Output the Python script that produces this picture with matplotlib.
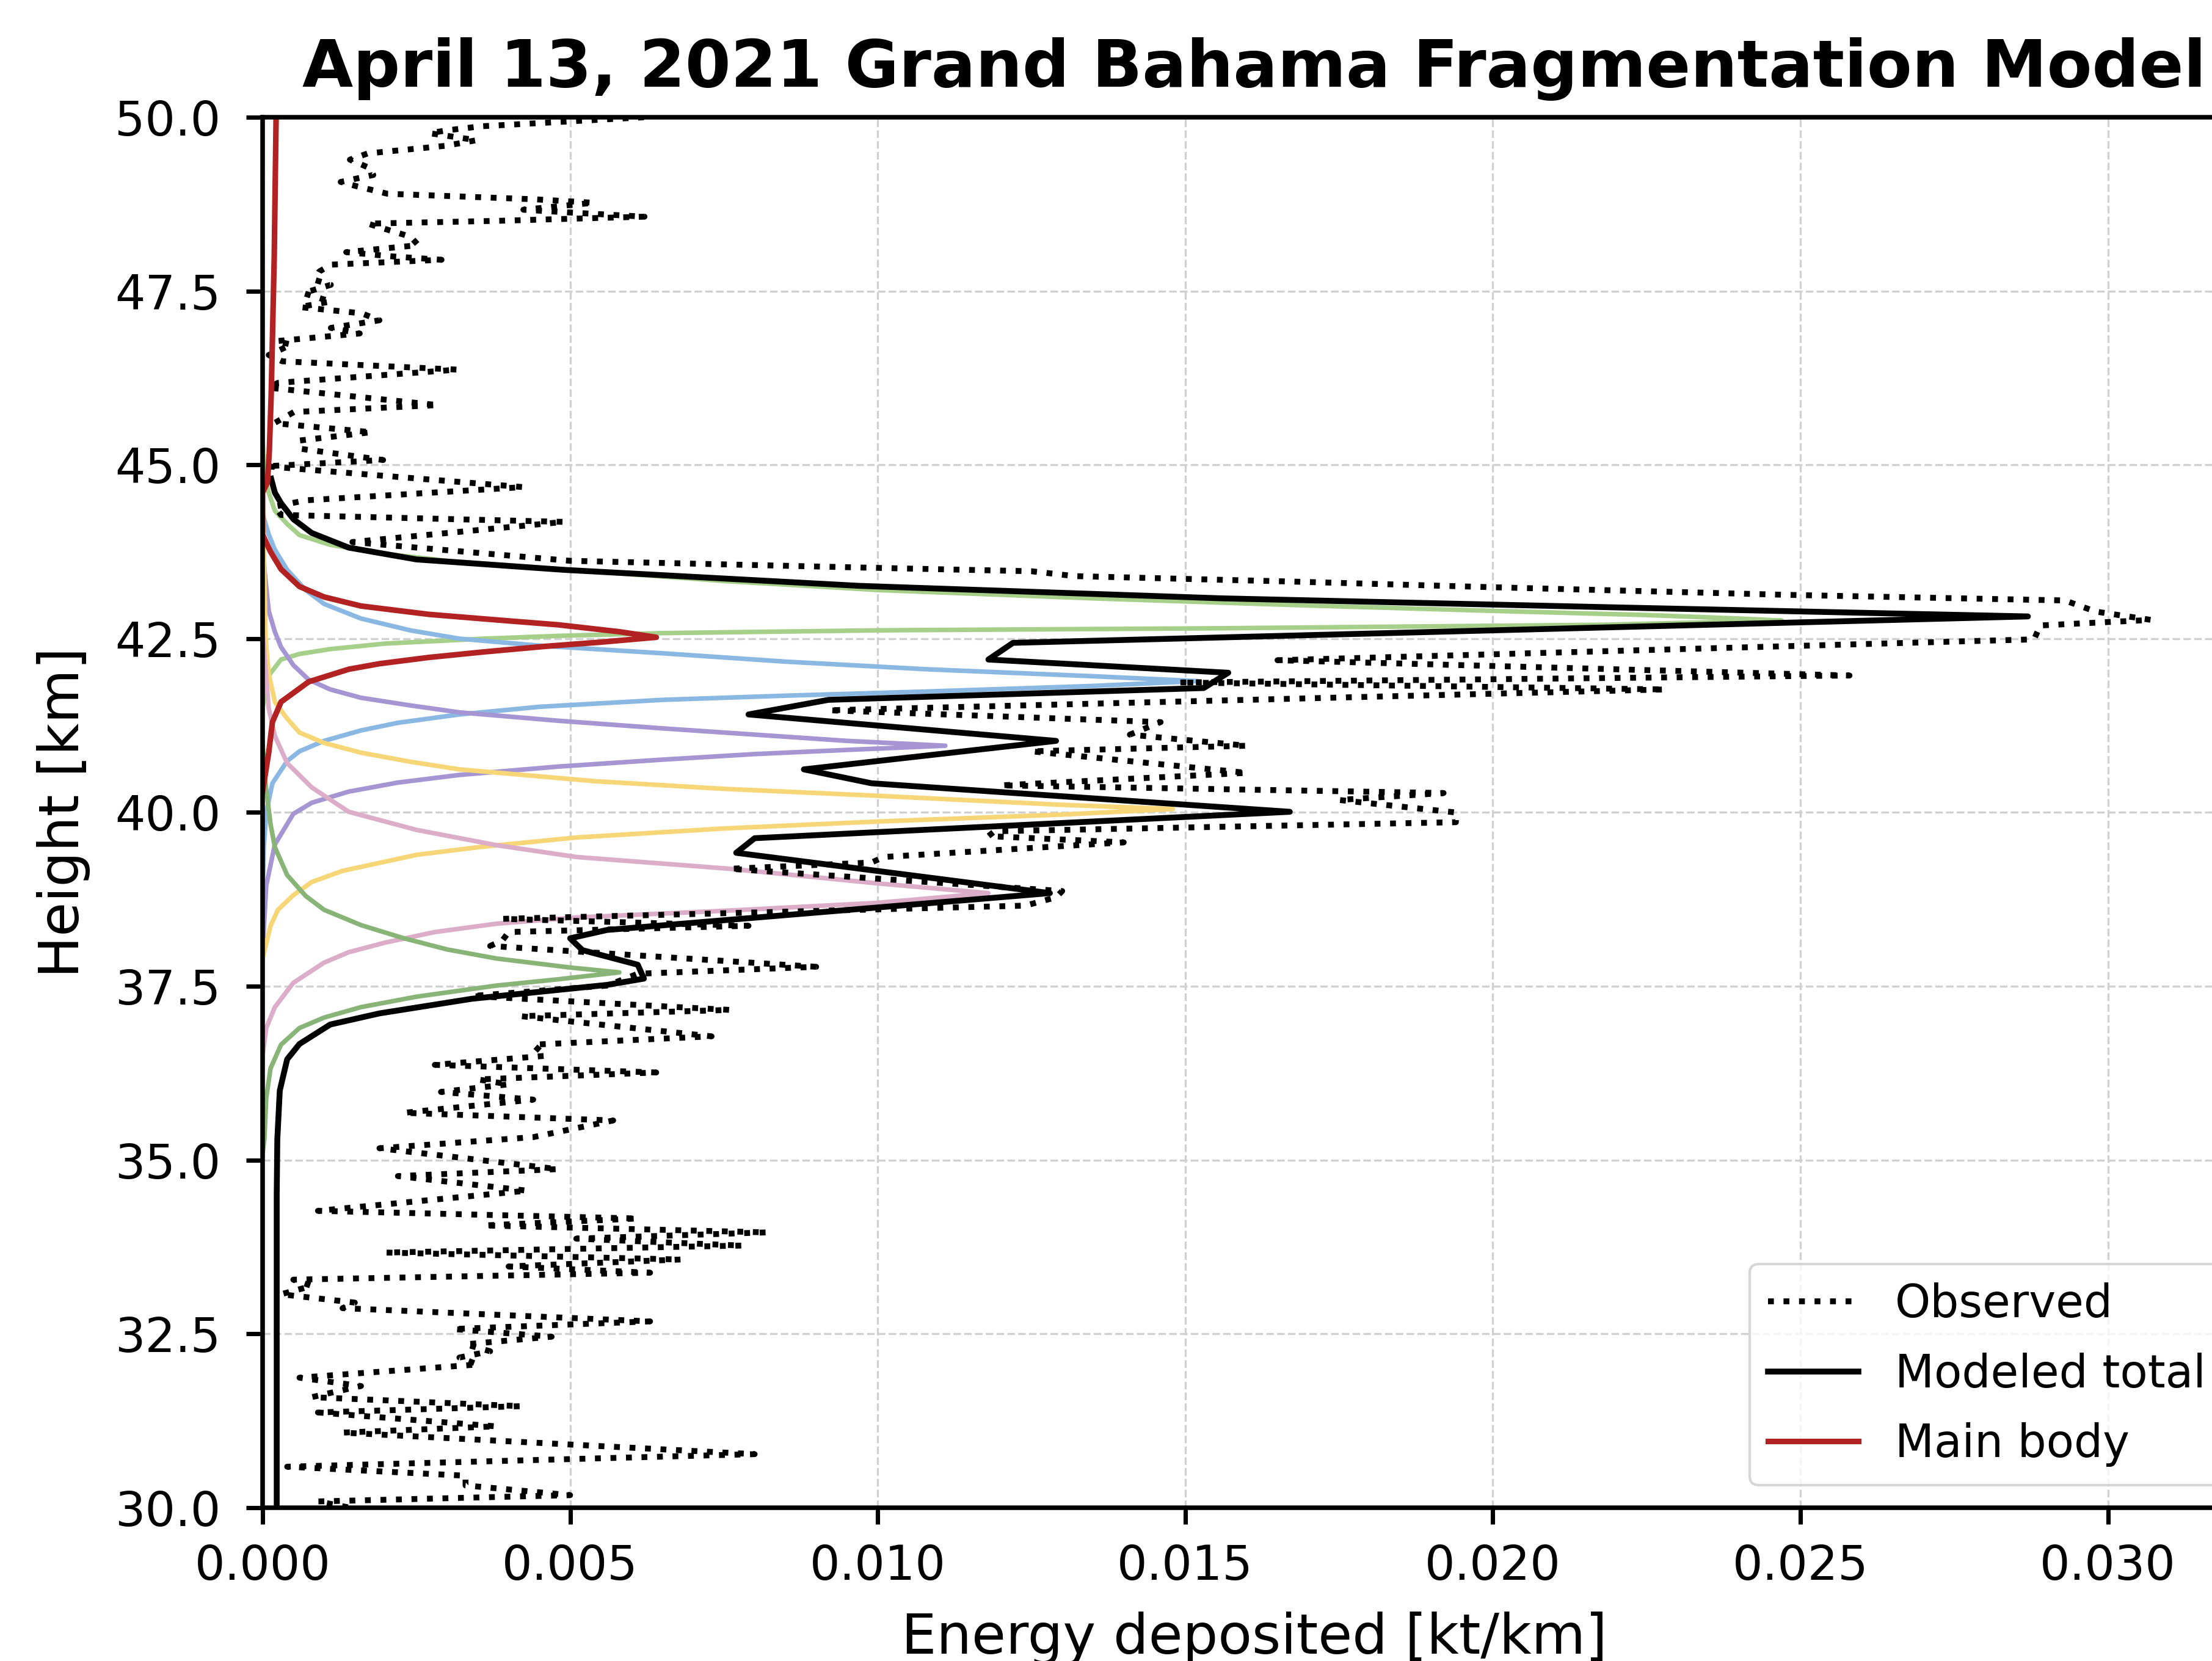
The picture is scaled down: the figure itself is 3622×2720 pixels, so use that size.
import matplotlib
matplotlib.use("Agg")
import matplotlib.pyplot as plt

# observed energy deposition (kt/km) vs height (km)
obs_energy = [0.0062, 0.00355, 0.00298, 0.00272, 0.00348, 0.00298, 0.00171, 0.00142, 0.00174, 0.00180,
              0.00127, 0.00152, 0.00203, 0.00443, 0.00538, 0.00424, 0.00500, 0.00621, 0.00380, 0.00171,
              0.00215, 0.00241, 0.00253, 0.00136, 0.00209, 0.00291, 0.00111, 0.00092, 0.00085, 0.00111,
              0.00066, 0.00111, 0.00060, 0.00161, 0.00190, 0.00111, 0.00158, 0.00022, 0.00047, 0.00010,
              0.00032, 0.00317, 0.00025, 0.00010, 0.00285, 0.00051, 0.00019, 0.00177, 0.00060, 0.00063,
              0.00196, 0.00006, 0.00424, 0.00070, 0.00020, 0.00030, 0.00490, 0.00146, 0.0050, 0.0099,
              0.0125, 0.0132, 0.0168, 0.0200, 0.0248, 0.0293, 0.0298, 0.0307, 0.0289, 0.0288,
              0.0165, 0.0258, 0.0149, 0.0228, 0.0092, 0.0146, 0.0141, 0.0160, 0.0125, 0.0160,
              0.0120, 0.0192, 0.0175, 0.0194, 0.0194, 0.0119, 0.0118, 0.0140, 0.0101, 0.0099,
              0.0076, 0.0130, 0.0129, 0.0124, 0.0039, 0.0079, 0.0040, 0.0039, 0.0037, 0.0090,
              0.0061, 0.0056, 0.0034, 0.0076, 0.0042, 0.0073, 0.0044, 0.0046, 0.0028, 0.0064,
              0.0035, 0.0040, 0.0029, 0.0044, 0.0023, 0.0057, 0.0044, 0.0019, 0.0048, 0.0022,
              0.0043, 0.0009, 0.0061, 0.0036, 0.0082, 0.0051, 0.0078, 0.0020, 0.0068, 0.0040,
              0.0063, 0.0005, 0.0008, 0.0003, 0.0015, 0.0013, 0.0063, 0.0031, 0.0047, 0.0033,
              0.0037, 0.0032, 0.0035, 0.0006, 0.0016, 0.0008, 0.0042, 0.0009, 0.0038, 0.0013,
              0.0080, 0.0004, 0.0033, 0.0033, 0.0050, 0.0009, 0.0020]
obs_height = [50.0, 49.87, 49.81, 49.77, 49.67, 49.59, 49.48, 49.39, 49.27, 49.17,
              49.07, 49.01, 48.90, 48.82, 48.77, 48.67, 48.63, 48.57, 48.51, 48.47,
              48.35, 48.28, 48.16, 48.06, 48.00, 47.95, 47.88, 47.78, 47.66, 47.59,
              47.47, 47.35, 47.27, 47.18, 47.08, 46.97, 46.89, 46.78, 46.73, 46.58,
              46.49, 46.37, 46.18, 46.11, 45.86, 45.76, 45.60, 45.47, 45.35, 45.23,
              45.07, 44.98, 44.68, 44.49, 44.40, 44.28, 44.18, 43.89, 43.62, 43.52,
              43.47, 43.40, 43.32, 43.24, 43.13, 43.05, 42.89, 42.77, 42.69, 42.49,
              42.19, 41.97, 41.87, 41.77, 41.47, 41.30, 41.12, 40.96, 40.88, 40.57,
              40.39, 40.28, 40.18, 40.00, 39.86, 39.73, 39.66, 39.57, 39.36, 39.28,
              39.19, 38.87, 38.78, 38.66, 38.47, 38.37, 38.28, 38.16, 38.08, 37.78,
              37.68, 37.51, 37.36, 37.16, 37.07, 36.78, 36.66, 36.50, 36.37, 36.26,
              36.16, 36.09, 35.98, 35.87, 35.68, 35.57, 35.33, 35.17, 34.87, 34.77,
              34.56, 34.27, 34.16, 34.06, 33.96, 33.87, 33.77, 33.67, 33.57, 33.47,
              33.38, 33.28, 33.19, 33.07, 32.95, 32.87, 32.68, 32.57, 32.46, 32.35,
              32.25, 32.16, 32.06, 31.87, 31.75, 31.59, 31.46, 31.37, 31.17, 31.08,
              30.77, 30.59, 30.46, 30.32, 30.18, 30.09, 29.90]

# modeled total
tot_energy = [0.00014, 0.0002, 0.0003, 0.0005, 0.0008, 0.0014, 0.0025, 0.0049, 0.0097, 0.0156,
              0.0220, 0.0287, 0.0122, 0.0118, 0.0157, 0.0153, 0.0092, 0.0079, 0.0129, 0.0088,
              0.0099, 0.0167, 0.0080, 0.0077, 0.0128, 0.0056, 0.0050, 0.0052, 0.0061, 0.0062,
              0.0056, 0.0034, 0.0019, 0.0011, 0.0006, 0.0004, 0.00028, 0.00024, 0.00023, 0.00023]
tot_height = [44.8, 44.6, 44.45, 44.22, 44.02, 43.81, 43.64, 43.49, 43.26, 43.08,
              42.95, 42.82, 42.44, 42.2, 42.01, 41.79, 41.62, 41.41, 41.03, 40.62,
              40.42, 40.01, 39.63, 39.42, 38.84, 38.31, 38.19, 38.02, 37.81, 37.61,
              37.52, 37.32, 37.11, 36.95, 36.67, 36.45, 36.0, 35.3, 34.5, 30.0]

# main body
main_energy = [0.00022, 0.00019, 0.00014, 0.00011, 0.00008, 0.0, 0.0, 0.00005, 0.00013, 0.0003,
               0.0006, 0.0010, 0.0016, 0.0027, 0.0038, 0.0048, 0.0058, 0.0064, 0.0055, 0.0046,
               0.0036, 0.0027, 0.0019, 0.0014, 0.00075, 0.0003, 0.00016, 0.0001, 0.0]
main_height = [50.0, 48.0, 46.0, 45.2, 44.75, 44.6, 44.0, 43.9, 43.75, 43.5,
               43.25, 43.1, 42.97, 42.85, 42.77, 42.7, 42.6, 42.52, 42.45, 42.39,
               42.31, 42.23, 42.14, 42.06, 41.88, 41.59, 41.3, 40.86, 40.3]

# fragments
frag1_energy = [0.0, 0.00002, 0.00005, 0.0001, 0.0002, 0.0004, 0.0006, 0.0011, 0.0019, 0.0030,
                0.0050, 0.0075, 0.0100, 0.0135, 0.0169, 0.0200, 0.0225, 0.0240, 0.0247, 0.0218,
                0.0156, 0.0100, 0.0065, 0.0048, 0.0036, 0.0020, 0.0011, 0.0006, 0.0003, 0.0001, 0.0]
frag1_height = [45.4, 45.0, 44.8, 44.6, 44.34, 44.15, 43.99, 43.85, 43.73, 43.62,
                43.49, 43.33, 43.2, 43.08, 42.98, 42.9, 42.84, 42.79, 42.76, 42.7,
                42.65, 42.62, 42.58, 42.54, 42.5, 42.43, 42.35, 42.28, 42.2, 41.97, 41.5]

frag2_energy = [0.0, 0.0001, 0.0002, 0.0004, 0.0007, 0.0010, 0.0016, 0.0024, 0.0032, 0.0045,
                0.0065, 0.0085, 0.0108, 0.0135, 0.0152, 0.0135, 0.0108, 0.0085, 0.0065, 0.0045,
                0.0032, 0.0022, 0.0016, 0.0010, 0.0006, 0.0004, 0.00016, 0.00006, 0.00002, 0.0]
frag2_height = [44.3, 44.0, 43.78, 43.49, 43.2, 43.0, 42.79, 42.62, 42.5, 42.4,
                42.29, 42.17, 42.06, 41.96, 41.89, 41.82, 41.74, 41.68, 41.62, 41.52,
                41.41, 41.29, 41.18, 41.03, 40.88, 40.74, 40.42, 40.0, 39.5, 38.8]

frag3_energy = [0.0, 0.00003, 0.0001, 0.0002, 0.0003, 0.0005, 0.00075, 0.0011, 0.0016, 0.0024,
                0.0032, 0.0048, 0.0065, 0.0080, 0.0095, 0.0111, 0.0095, 0.0080, 0.0065, 0.0048,
                0.0032, 0.0022, 0.0014, 0.0008, 0.0005, 0.0002, 0.00006, 0.0]
frag3_height = [44.0, 43.5, 42.9, 42.6, 42.38, 42.12, 41.91, 41.77, 41.65, 41.54,
                41.44, 41.32, 41.21, 41.12, 41.03, 40.96, 40.9, 40.84, 40.76, 40.66,
                40.54, 40.43, 40.3, 40.14, 39.98, 39.54, 38.95, 38.0]

frag4_energy = [0.0, 0.00005, 0.0001, 0.0002, 0.0004, 0.0006, 0.0010, 0.0016, 0.0024, 0.0032,
                0.0054, 0.0075, 0.0100, 0.0130, 0.0148, 0.0130, 0.0100, 0.0075, 0.0051, 0.0035,
                0.0025, 0.0013, 0.0008, 0.0005, 0.00025, 0.00013, 0.0]
frag4_height = [44.6, 42.5, 42.0, 41.59, 41.35, 41.15, 41.0, 40.86, 40.73, 40.62,
                40.45, 40.34, 40.24, 40.11, 40.05, 39.97, 39.87, 39.77, 39.64, 39.5,
                39.39, 39.16, 39.0, 38.81, 38.6, 38.37, 37.9]

frag5_energy = [0.0, 0.0001, 0.0002, 0.0004, 0.0008, 0.0014, 0.0025, 0.0038, 0.0051, 0.0076,
                0.0100, 0.0118, 0.0100, 0.0076, 0.0051, 0.0038, 0.0028, 0.0020, 0.0014, 0.0010,
                0.0005, 0.0002, 0.00006, 0.0]
frag5_height = [42.6, 41.5, 41.1, 40.71, 40.36, 40.01, 39.75, 39.53, 39.36, 39.19,
                38.98, 38.84, 38.7, 38.59, 38.49, 38.40, 38.28, 38.13, 37.99, 37.84,
                37.55, 37.2, 36.9, 36.5]

frag6_energy = [0.0, 0.00005, 0.00013, 0.0002, 0.0004, 0.0007, 0.0010, 0.0016, 0.0023, 0.0030,
                0.0038, 0.0050, 0.0058, 0.0048, 0.0038, 0.0025, 0.0016, 0.0010, 0.0006, 0.0003,
                0.00013, 0.00006, 0.00003, 0.0]
frag6_height = [41.0, 40.4, 39.83, 39.5, 39.1, 38.8, 38.6, 38.38, 38.19, 38.03,
                37.9, 37.77, 37.70, 37.6, 37.51, 37.35, 37.2, 37.05, 36.9, 36.66,
                36.32, 35.9, 35.3, 35.1]

frag_colors = ['#a6cf8a', '#8ab8e2', '#a595d2', '#f7d678', '#dbadc8', '#89b478']

plt.rcParams['font.family'] = 'DejaVu Sans'
plt.rcParams['axes.linewidth'] = 1.8

fig = plt.figure(figsize=(3622 / 300, 2720 / 300), dpi=300)
ax = fig.add_axes([0.1187, 0.0923, 0.8968, 0.8371])

frags = [(frag1_energy, frag1_height), (frag2_energy, frag2_height), (frag3_energy, frag3_height),
         (frag4_energy, frag4_height), (frag5_energy, frag5_height), (frag6_energy, frag6_height)]
for (e, h), c in zip(frags, frag_colors):
    ax.plot(e, h, color=c, lw=1.8)

ax.plot(obs_energy, obs_height, ':', color='black', lw=2.3, label='Observed')
ax.plot(tot_energy, tot_height, '-', color='black', lw=2.3, label='Modeled total')
ax.plot(main_energy, main_height, '-', color='#b22222', lw=2.2, label='Main body')

ax.set_xlim(0, 0.03225)
ax.set_ylim(30, 50)
ax.set_yticks([30, 32.5, 35, 37.5, 40, 42.5, 45, 47.5, 50])
ax.yaxis.set_major_formatter(plt.FormatStrFormatter('%.1f'))
ax.xaxis.set_major_formatter(plt.FormatStrFormatter('%.3f'))
ax.tick_params(labelsize=18.7, length=6.5, width=1.7)
ax.tick_params(axis='y', pad=10)
ax.tick_params(axis='x', pad=7.5)
ax.grid(True, linestyle='--', color='#d0d0d0', lw=0.8)
ax.set_axisbelow(True)

ax.set_xlabel('Energy deposited [kt/km]', fontsize=21.8, labelpad=8.5)
ax.set_ylabel('Height [km]', fontsize=21.8, labelpad=9.5)
ax.set_title('April 13, 2021 Grand Bahama Fragmentation Model', fontsize=25.8,
             fontweight='bold', pad=12)
ax.legend(loc='lower right', fontsize=17.8, labelspacing=0.56)

fig.savefig('out.png', dpi=300)
